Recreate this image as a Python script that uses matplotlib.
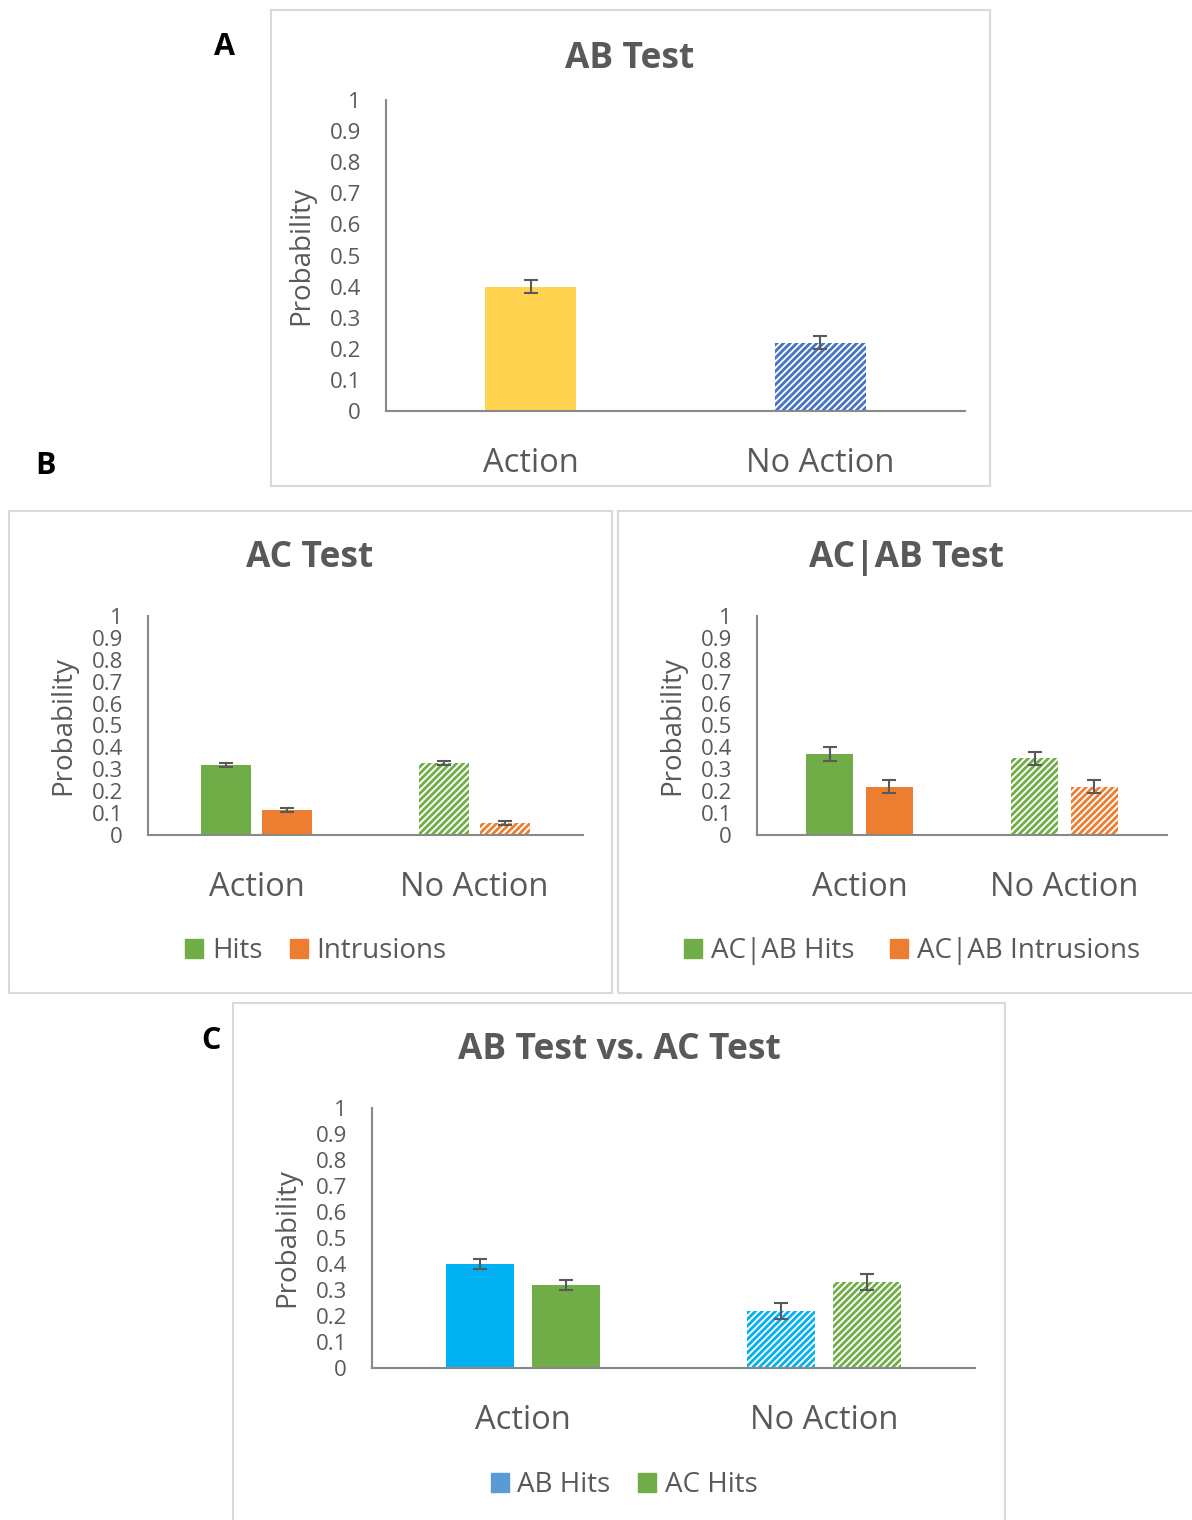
import matplotlib
matplotlib.use("Agg")
import matplotlib.pyplot as plt
import numpy as np
from matplotlib.patches import Rectangle, Patch

plt.rcParams['font.family'] = ['Open Sans', 'DejaVu Sans']
plt.rcParams['hatch.linewidth'] = 2.0

W, H = 1192, 1520

# ---- data ----
categories = ['Action', 'No Action']

ab_vals = [0.40, 0.22]
ab_err = [0.02, 0.02]

ac_hits = [0.32, 0.33]
ac_hits_err = [0.01, 0.01]
ac_intr = [0.115, 0.055]
ac_intr_err = [0.008, 0.008]

acab_hits = [0.37, 0.35]
acab_hits_err = [0.03, 0.03]
acab_intr = [0.22, 0.22]
acab_intr_err = [0.03, 0.03]

cmp_ab = [0.40, 0.22]
cmp_ab_err = [0.02, 0.03]
cmp_ac = [0.32, 0.33]
cmp_ac_err = [0.02, 0.03]

yticks = [0, 0.1, 0.2, 0.3, 0.4, 0.5, 0.6, 0.7, 0.8, 0.9, 1]
ytick_labels = ['0', '0.1', '0.2', '0.3', '0.4', '0.5', '0.6', '0.7', '0.8', '0.9', '1']

TXT = '#595959'
AXC = '#898989'
FRAME = '#d9d9d9'
YELLOW = '#ffd34f'
DBLUE = '#4472c4'
GREEN = '#70ad47'
ORANGE = '#ed7d31'
LBLUE = '#00b0f0'
LEGBLUE = '#5b9bd5'

fig = plt.figure(figsize=(W / 100, H / 100), dpi=100)


def px_axes(x0, y0, x1, y1):
    return fig.add_axes([x0 / W, 1 - y1 / H, (x1 - x0) / W, (y1 - y0) / H])


def frame(x0, y0, x1, y1):
    fig.patches.append(Rectangle((x0 / W, 1 - y1 / H), (x1 - x0) / W, (y1 - y0) / H,
                                 transform=fig.transFigure, facecolor='none',
                                 edgecolor=FRAME, linewidth=1.5, zorder=0))


def style(ax):
    ax.set_xlim(-0.5, 1.5)
    ax.set_ylim(0, 1)
    ax.set_yticks(yticks)
    ax.set_yticklabels(ytick_labels)
    ax.set_xticks([0, 1])
    ax.set_xticklabels(categories)
    for s in ['top', 'right']:
        ax.spines[s].set_visible(False)
    for s in ['left', 'bottom']:
        ax.spines[s].set_color(AXC)
        ax.spines[s].set_linewidth(1.5)
    ax.tick_params(axis='y', length=0, labelsize=16, colors=TXT, pad=18)
    ax.tick_params(axis='x', length=0, labelsize=23.5, colors=TXT, pad=26)
    ax.set_ylabel('Probability', fontsize=20, color=TXT, labelpad=10)
    ax.patch.set_alpha(0)


def bars(ax, x, vals, err, color, width, hatched):
    if hatched:
        ax.bar(x, vals, width, facecolor='white', edgecolor=color, hatch='/////', linewidth=0)
    else:
        ax.bar(x, vals, width, color=color, linewidth=0)
    ax.errorbar(x, vals, yerr=err, fmt='none', ecolor=TXT, elinewidth=1.5,
                capsize=5, capthick=1.5)


def legend(ax, handles, cx, cy, spacing):
    ax.legend(handles=handles, loc='center', bbox_to_anchor=(cx / W, 1 - cy / H),
              bbox_transform=fig.transFigure, ncol=2, frameon=False, fontsize=20,
              labelcolor=TXT, handlelength=0.65, handleheight=0.65, handletextpad=0.3,
              columnspacing=spacing)


def title(cx, cy, s):
    fig.text(cx / W, 1 - cy / H, s, ha='center', va='center',
             fontsize=25.5, fontweight='bold', color=TXT)


def letter(cx, cy, s):
    fig.text(cx / W, 1 - cy / H, s, ha='center', va='center', fontsize=22,
             fontweight='bold', color='black')


x = np.arange(len(categories))

# ---- Panel A ----
frame(271, 10, 990, 486)
axA = px_axes(386, 100, 965, 411)
style(axA)
bars(axA, x[:1], ab_vals[:1], ab_err[:1], YELLOW, 0.315, False)
bars(axA, x[1:], ab_vals[1:], ab_err[1:], DBLUE, 0.315, True)
title(630, 59, 'AB Test')
letter(225, 47, 'A')

# ---- Panel B left ----
frame(9, 511, 612, 993)
axB1 = px_axes(148, 616, 583, 835)
style(axB1)
for i in range(2):
    bars(axB1, [x[i] - 0.14], [ac_hits[i]], [ac_hits_err[i]], GREEN, 0.23, i == 1)
    bars(axB1, [x[i] + 0.14], [ac_intr[i]], [ac_intr_err[i]], ORANGE, 0.23, i == 1)
title(310, 558, 'AC Test')
letter(45, 466, 'B')
legend(axB1, [Patch(color=GREEN, label='Hits'), Patch(color=ORANGE, label='Intrusions')],
       316, 951, 1.0)

# ---- Panel B right ----
frame(618, 511, 1200, 993)
axB2 = px_axes(757, 616, 1167, 835)
style(axB2)
for i in range(2):
    bars(axB2, [x[i] - 0.145], [acab_hits[i]], [acab_hits_err[i]], GREEN, 0.23, i == 1)
    bars(axB2, [x[i] + 0.145], [acab_intr[i]], [acab_intr_err[i]], ORANGE, 0.23, i == 1)
title(906, 558, 'AC|AB Test')
legend(axB2, [Patch(color=GREEN, label='AC|AB Hits'), Patch(color=ORANGE, label='AC|AB Intrusions')],
       912, 951, 1.3)

# ---- Panel C ----
frame(233, 1003, 1005, 1530)
axC = px_axes(372, 1108, 975, 1368)
style(axC)
for i in range(2):
    bars(axC, [x[i] - 0.143], [cmp_ab[i]], [cmp_ab_err[i]], LBLUE, 0.225, i == 1)
    bars(axC, [x[i] + 0.143], [cmp_ac[i]], [cmp_ac_err[i]], GREEN, 0.225, i == 1)
title(619, 1050, 'AB Test vs. AC Test')
letter(211, 1041, 'C')
legend(axC, [Patch(color=LEGBLUE, label='AB Hits'), Patch(color=GREEN, label='AC Hits')],
       624, 1485, 1.0)

fig.savefig('out.png', dpi=100)
